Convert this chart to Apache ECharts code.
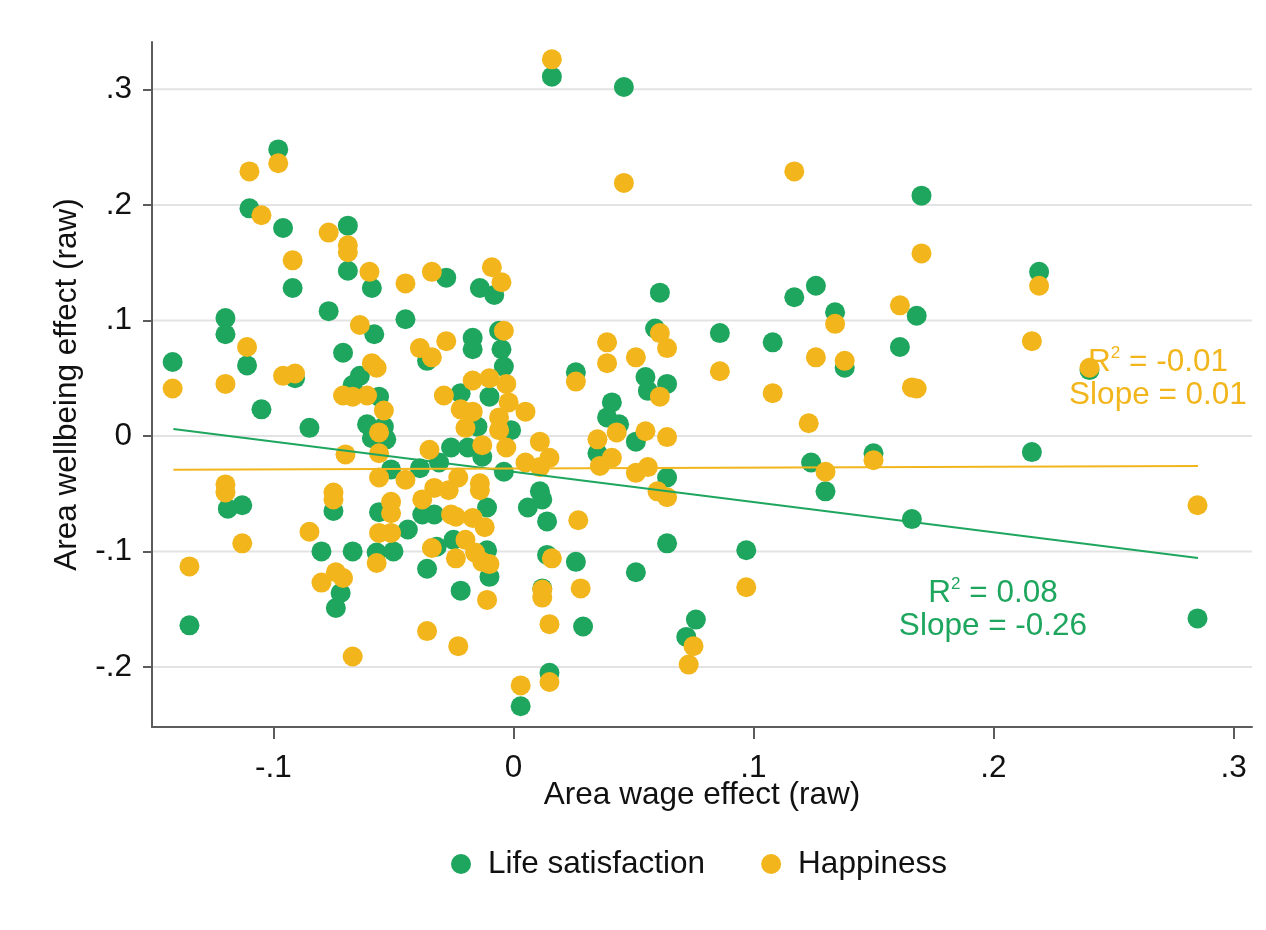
<!DOCTYPE html>
<html>
<head>
<meta charset="utf-8">
<script src="https://cdn.jsdelivr.net/npm/echarts@6/dist/echarts.min.js"></script>
<style>
  html, body { margin: 0; padding: 0; background: #ffffff; }
  #chart { width: 1266px; height: 930px; }
</style>
</head>
<body>
<div id="chart"></div>
<script>
// ---- data ----
const seriesNames = ['Life satisfaction', 'Happiness'];
const xTicks = [-0.1, 0, 0.1, 0.2, 0.3];
const yTicks = [-0.2, -0.1, 0, 0.1, 0.2, 0.3];
const xRange = [-0.1506, 0.3077];
const yRange = [-0.252, 0.341];

const lifeSatisfaction = [
  [-0.142,0.064],[-0.135,-0.164],[-0.120,0.102],[-0.120,0.088],[-0.119,-0.063],[-0.113,-0.060],
  [-0.110,0.197],[-0.111,0.061],[-0.105,0.023],[-0.098,0.248],[-0.096,0.180],[-0.092,0.128],
  [-0.091,0.050],[-0.085,0.007],[-0.077,0.108],[-0.071,0.072],[-0.069,0.182],[-0.069,0.143],
  [-0.064,0.052],[-0.059,0.128],[-0.058,0.088],[-0.045,0.101],[-0.036,0.065],[-0.028,0.137],
  [-0.017,0.085],[-0.017,0.075],[-0.014,0.128],[-0.008,0.122],[-0.006,0.091],[-0.005,0.075],
  [-0.004,0.060],[-0.067,0.044],[-0.056,0.034],[-0.061,0.010],[-0.054,0.008],[-0.059,-0.002],
  [-0.053,-0.003],[-0.051,-0.029],[-0.039,-0.028],[-0.022,0.037],[-0.010,0.034],[-0.015,0.008],
  [-0.001,0.005],[-0.026,-0.010],[-0.019,-0.010],[-0.013,-0.018],[-0.031,-0.023],[-0.004,-0.031],
  [-0.075,-0.065],[-0.080,-0.100],[-0.067,-0.100],[-0.072,-0.136],[-0.074,-0.149],[-0.056,-0.066],
  [-0.044,-0.081],[-0.038,-0.068],[-0.033,-0.068],[-0.050,-0.100],[-0.057,-0.101],[-0.032,-0.096],
  [-0.025,-0.090],[-0.011,-0.062],[-0.036,-0.115],[-0.010,-0.122],[-0.022,-0.134],[-0.011,-0.099],
  [0.011,-0.048],[0.006,-0.062],[0.014,-0.074],[0.014,-0.103],[0.026,-0.109],[0.016,0.311],
  [0.046,0.302],[0.061,0.124],[0.059,0.093],[0.086,0.089],[0.026,0.055],[0.055,0.051],
  [0.064,0.045],[0.041,0.029],[0.039,0.016],[0.044,0.010],[0.056,0.039],[0.035,-0.015],
  [0.051,-0.005],[0.064,-0.036],[0.012,-0.055],[0.064,-0.093],[0.097,-0.099],[0.051,-0.118],
  [0.012,-0.132],[0.029,-0.165],[0.076,-0.159],[0.072,-0.174],[0.015,-0.205],[0.003,-0.234],
  [0.170,0.208],[0.219,0.142],[0.117,0.120],[0.126,0.130],[0.134,0.107],[0.168,0.104],
  [0.108,0.081],[0.161,0.077],[0.138,0.059],[0.216,-0.014],[0.124,-0.023],[0.150,-0.015],
  [0.130,-0.048],[0.166,-0.072],[0.285,-0.158],[0.240,0.057]
];

const happiness = [
  [-0.142,0.041],[-0.135,-0.113],[-0.110,0.229],[-0.098,0.236],[-0.105,0.191],[-0.120,0.045],
  [-0.120,-0.042],[-0.120,-0.049],[-0.113,-0.093],[-0.111,0.077],[-0.092,0.152],[-0.096,0.052],
  [-0.091,0.054],[-0.077,0.176],[-0.069,0.165],[-0.069,0.159],[-0.060,0.142],[-0.045,0.132],
  [-0.034,0.142],[-0.009,0.146],[-0.005,0.133],[-0.064,0.096],[-0.039,0.076],[-0.034,0.068],
  [-0.028,0.082],[-0.059,0.063],[-0.057,0.059],[-0.004,0.091],[-0.017,0.048],[-0.010,0.050],
  [-0.003,0.045],[-0.071,0.035],[-0.067,0.034],[-0.061,0.035],[-0.054,0.022],[-0.056,0.003],
  [-0.056,-0.015],[-0.070,-0.016],[-0.035,-0.012],[-0.029,0.035],[-0.022,0.023],[-0.017,0.021],
  [-0.020,0.007],[-0.013,-0.008],[-0.006,0.016],[-0.006,0.005],[-0.002,0.029],[-0.003,-0.010],
  [0.005,0.021],[0.005,-0.023],[-0.075,-0.049],[-0.075,-0.055],[-0.085,-0.083],[-0.056,-0.036],
  [-0.045,-0.038],[-0.051,-0.057],[-0.051,-0.067],[-0.056,-0.084],[-0.051,-0.084],[-0.057,-0.110],
  [-0.074,-0.118],[-0.071,-0.123],[-0.080,-0.127],[-0.038,-0.055],[-0.033,-0.045],[-0.027,-0.047],
  [-0.023,-0.036],[-0.014,-0.041],[-0.014,-0.047],[-0.026,-0.068],[-0.024,-0.070],[-0.017,-0.071],
  [-0.012,-0.079],[-0.020,-0.090],[-0.034,-0.097],[-0.024,-0.106],[-0.016,-0.101],[-0.013,-0.109],
  [-0.010,-0.111],[-0.011,-0.142],[-0.036,-0.169],[-0.023,-0.182],[-0.067,-0.191],[0.003,-0.216],
  [0.011,-0.005],[0.015,-0.019],[0.011,-0.027],[0.016,-0.106],[0.012,-0.133],[0.012,-0.140],
  [0.028,-0.132],[0.016,0.326],[0.046,0.219],[0.039,0.081],[0.039,0.063],[0.051,0.068],
  [0.061,0.089],[0.064,0.076],[0.086,0.056],[0.026,0.047],[0.061,0.034],[0.043,0.003],
  [0.035,-0.003],[0.055,0.004],[0.064,-0.001],[0.041,-0.019],[0.036,-0.026],[0.051,-0.032],
  [0.056,-0.027],[0.060,-0.048],[0.064,-0.053],[0.027,-0.073],[0.015,-0.163],[0.097,-0.131],
  [0.015,-0.213],[0.073,-0.198],[0.075,-0.182],[0.117,0.229],[0.170,0.158],[0.219,0.130],
  [0.161,0.113],[0.134,0.097],[0.216,0.082],[0.126,0.068],[0.138,0.065],[0.240,0.059],
  [0.108,0.037],[0.166,0.042],[0.168,0.041],[0.123,0.011],[0.150,-0.021],[0.130,-0.031],
  [0.285,-0.060]
];

// fitted lines (end points)
const fitLife = [[-0.1417, 0.006], [0.2852, -0.1056]];
const fitHappy = [[-0.1417, -0.0294], [0.2852, -0.026]];

const annLife = ['0.08', '-0.26'];
const annHappy = ['-0.01', '0.01'];

// ---- styling ----
const GREEN = '#1ea65e';
const YELLOW = '#f2b61c';
const FONT = 'Liberation Sans, Arial, sans-serif';
const FS = 31.5;
const AXIS = '#5c5c5c';

function fmt(v) {
  const r = Math.round(v * 10) / 10;
  if (r === 0) return '0';
  return (r < 0 ? '-' : '') + String(Math.abs(r)).replace(/^0/, '');
}

const chart = echarts.init(document.getElementById('chart'), null, { renderer: 'canvas' });

function annText(x, y, color, r2, slope) {
  return [
    {
      type: 'text', x: x, y: y, z: 100,
      style: {
        text: '{a|R}{s|2}{a| = ' + r2 + '}',
        align: 'center', verticalAlign: 'middle',
        fill: color, font: FS + 'px ' + FONT,
        rich: {
          a: { fontSize: FS, fontFamily: FONT, fill: color, lineHeight: 34 },
          s: { fontSize: 17, fontFamily: FONT, fill: color, verticalAlign: 'top', lineHeight: 17 }
        }
      }
    },
    {
      type: 'text', x: x, y: y + 33, z: 100,
      style: {
        text: 'Slope = ' + slope,
        align: 'center', verticalAlign: 'middle',
        fill: color, font: FS + 'px ' + FONT
      }
    }
  ];
}

const option = {
  animation: false,
  backgroundColor: '#ffffff',
  textStyle: { fontFamily: FONT },
  grid: { left: 152, right: 14, top: 42, bottom: 203, containLabel: false },
  legend: {
    data: seriesNames.map(n => ({ name: n, icon: 'circle' })),
    left: 446, top: 843,
    itemWidth: 44, itemHeight: 20, itemGap: 56,
    textStyle: { fontSize: FS, color: '#111', fontFamily: FONT },
    selectedMode: false
  },
  xAxis: {
    type: 'value', min: xRange[0], max: xRange[1],
    name: 'Area wage effect (raw)', nameLocation: 'middle', nameGap: 52, nameMoveOverlap: false,
    nameTextStyle: { fontSize: FS, color: '#111', fontFamily: FONT },
    axisLine: { show: true, onZero: false, lineStyle: { color: AXIS, width: 2 } },
    axisTick: { show: true, length: 12, lineStyle: { color: AXIS, width: 2 }, customValues: xTicks },
    axisLabel: { fontSize: FS, color: '#111', margin: 25, customValues: xTicks, formatter: fmt, fontFamily: FONT },
    splitLine: { show: false }
  },
  yAxis: {
    type: 'value', min: yRange[0], max: yRange[1],
    name: 'Area wellbeing effect (raw)', nameLocation: 'middle', nameGap: 69, nameMoveOverlap: false,
    nameTextStyle: { fontSize: FS, color: '#111', fontFamily: FONT },
    axisLine: { show: true, onZero: false, lineStyle: { color: AXIS, width: 2 } },
    axisTick: { show: true, length: 9, lineStyle: { color: AXIS, width: 2 }, customValues: yTicks },
    axisLabel: { fontSize: FS, color: '#111', margin: 20, customValues: yTicks, formatter: fmt, fontFamily: FONT },
    splitLine: { show: false }
  },
  series: [
    {
      name: 'gridlines', type: 'custom', coordinateSystem: 'cartesian2d', silent: true, z: 0,
      data: yTicks.map(v => [xRange[0], v]),
      renderItem: function (params, api) {
        const p = api.coord([api.value(0), api.value(1)]);
        const cs = params.coordSys;
        return {
          type: 'line',
          shape: { x1: cs.x, y1: p[1], x2: cs.x + cs.width, y2: p[1] },
          style: { stroke: '#e3e3e3', lineWidth: 2 }
        };
      }
    },
    {
      name: seriesNames[0], type: 'scatter', data: lifeSatisfaction, symbolSize: 20, z: 2,
      itemStyle: { color: GREEN, opacity: 1 }, silent: true
    },
    {
      name: seriesNames[1], type: 'scatter', data: happiness, symbolSize: 20, z: 3,
      itemStyle: { color: YELLOW, opacity: 1 }, silent: true
    },
    {
      name: 'fitLife', type: 'line', data: fitLife, showSymbol: false, symbol: 'none', z: 4, silent: true,
      lineStyle: { color: GREEN, width: 2 }
    },
    {
      name: 'fitHappy', type: 'line', data: fitHappy, showSymbol: false, symbol: 'none', z: 4, silent: true,
      lineStyle: { color: YELLOW, width: 2 }
    }
  ],
  graphic: [].concat(
    annText(993, 593, GREEN, annLife[0], annLife[1]),
    annText(1158, 362, YELLOW, annHappy[0], annHappy[1])
  )
};

chart.setOption(option);
</script>
</body>
</html>
